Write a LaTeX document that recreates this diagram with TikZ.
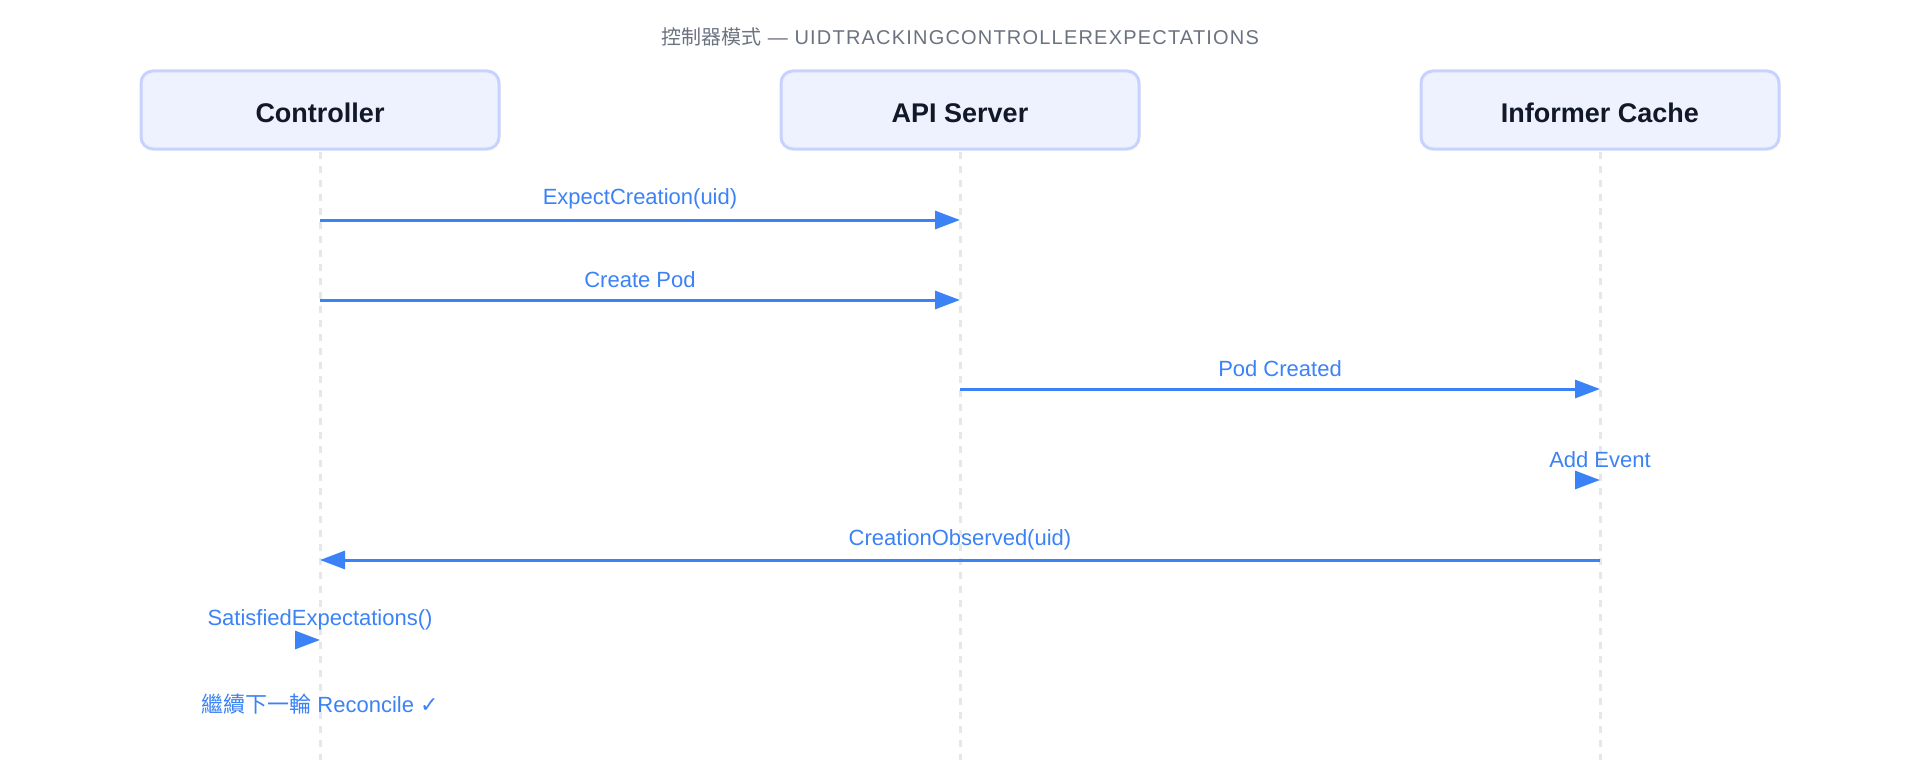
\documentclass[tikz,border=0pt]{standalone}
\usepackage{fontspec}
\setmainfont{Liberation Sans}
\newfontfamily\cjk{Noto Sans CJK TC}
\newfontfamily\symfont{DejaVu Sans}
\usetikzlibrary{arrows.meta,positioning}
\definecolor{boxfill}{HTML}{EEF2FF}
\definecolor{boxline}{HTML}{C7D2FE}
\definecolor{msgblue}{HTML}{3B82F6}
\definecolor{lifegray}{HTML}{E5E7EB}
\definecolor{titlegray}{HTML}{6B7280}
\definecolor{ink}{HTML}{111827}

\begin{document}
\begin{tikzpicture}[x=1pt, y=-1pt,
      actor/.style={draw=boxline, line width=3pt, fill=boxfill,
                    rounded corners=12pt, minimum width=358pt,
                    minimum height=78pt, text=ink,
                    text height=25pt, text depth=0pt,
                    font=\fontsize{27}{32}\selectfont\bfseries},
      life/.style={lifegray, line width=3pt, dash pattern=on 7pt off 7pt},
      msg/.style={-{Triangle[length=25pt,width=18pt]}, msgblue, line width=3pt},
      lbl/.style={font=\fontsize{22}{26}\selectfont, text=msgblue}]
    \useasboundingbox (0,0) rectangle (1920,760);
    % ----- title
    \node[font=\fontsize{20}{24}\selectfont\addfontfeatures{LetterSpace=6},
          text=titlegray] (title) at (960,37)
      {{\cjk 控制器模式} — UIDTRACKINGCONTROLLEREXPECTATIONS};
    % ----- participants
    \node[actor] (ctrl) at ( 320,110) {Controller};
    \node[actor] (api)  at ( 960,110) {API Server};
    \node[actor] (inf)  at (1600,110) {Informer Cache};
    % ----- lifelines
    \coordinate (ctrlEnd) at ( 320,760);
    \coordinate (apiEnd)  at ( 960,760);
    \coordinate (infEnd)  at (1600,760);
    \draw[life] ([yshift=-1.5pt]ctrl.south) -- (ctrlEnd);
    \draw[life] ([yshift=-1.5pt]api.south)  -- (apiEnd);
    \draw[life] ([yshift=-1.5pt]inf.south)  -- (infEnd);
    % ----- message rows
    \coordinate (c1) at ( 320,220); \coordinate (a1) at ( 960,220);
    \coordinate (c2) at ( 320,300); \coordinate (a2) at ( 960,300);
    \coordinate (a3) at ( 960,389); \coordinate (i3) at (1600,389);
    \coordinate (i4) at (1600,480); \coordinate (i4s) at (1575,480);
    \coordinate (i5) at (1600,560); \coordinate (c5) at ( 320,560);
    \coordinate (c6) at ( 320,640); \coordinate (c6s) at ( 295,640);
    \draw[msg] (c1) -- (a1)
      node[lbl, midway, yshift=21pt] {ExpectCreation(uid)};
    \draw[msg] (c2) -- (a2)
      node[lbl, midway, yshift=20pt] {Create Pod};
    \draw[msg] (a3) -- (i3)
      node[lbl, midway, yshift=20pt] {Pod Created};
    \draw[msg] (i4s) -- (i4);
    \node[lbl, yshift=20pt] (addev) at (i4) {Add Event};
    \draw[msg] (i5) -- (c5)
      node[lbl, midway, yshift=20pt] {CreationObserved(uid)};
    \draw[msg] (c6s) -- (c6);
    \node[lbl, yshift=20pt] (satexp) at (c6) {SatisfiedExpectations()};
    % ----- closing note
    \node[lbl] (next) at (320,704)
      {{\cjk 繼續下一輪} Reconcile {\symfont ✓}};
\end{tikzpicture}
\end{document}
